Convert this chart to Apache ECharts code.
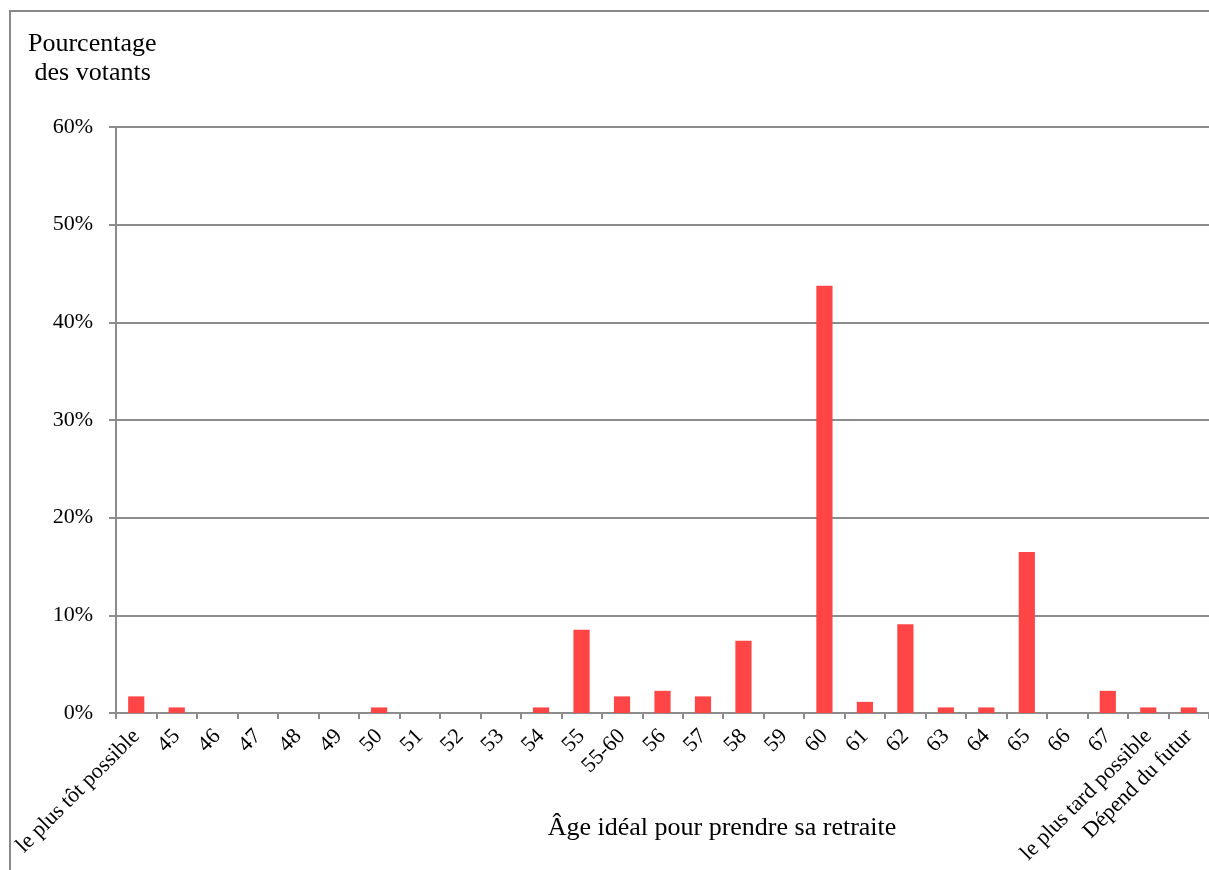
<!DOCTYPE html>
<html>
<head>
<meta charset="utf-8">
<script src="https://cdn.jsdelivr.net/npm/echarts@6/dist/echarts.min.js"></script>
<style>
  html, body { margin: 0; padding: 0; background: #fff; }
  #chart { width: 1209px; height: 870px; }
</style>
</head>
<body>
<div id="chart"></div>
<script>
// Ideal retirement age, share of respondents (%)
const categories = [
  'le plus tôt possible', '45', '46', '47', '48', '49', '50', '51', '52', '53', '54', '55',
  '55-60', '56', '57', '58', '59', '60', '61', '62', '63', '64', '65', '66', '67',
  'le plus tard possible', 'Dépend du futur'
];
const shares = [
  1.70, 0.57, 0, 0, 0, 0, 0.57, 0, 0, 0, 0.57, 8.52,
  1.70, 2.27, 1.70, 7.39, 0, 43.75, 1.14, 9.09, 0.57, 0.57, 16.48, 0, 2.27,
  0.57, 0.57
];
const yTicks = { min: 0, max: 60, step: 10 };
const yTitle = ['Pourcentage', ' des votants'];
const xTitle = 'Âge idéal pour prendre sa retraite';

const serif = '"Liberation Serif", "DejaVu Serif", serif';
const axisGray = '#8c8c8c';

const chart = echarts.init(document.getElementById('chart'), null, { renderer: 'canvas' });
chart.setOption({
  animation: false,
  backgroundColor: '#ffffff',
  grid: { left: 116, right: 0, top: 127, bottom: 157, containLabel: false },
  xAxis: {
    type: 'category',
    data: categories,
    axisLine: { lineStyle: { color: axisGray, width: 2 } },
    axisTick: { show: true, length: 6, alignWithLabel: false, lineStyle: { color: axisGray, width: 2 } },
    axisLabel: {
      interval: 0,
      rotate: 45,
      margin: 20,
      color: '#000',
      fontFamily: serif,
      fontSize: 22
    },
    splitLine: { show: false }
  },
  yAxis: {
    type: 'value',
    min: yTicks.min,
    max: yTicks.max,
    interval: yTicks.step,
    axisLine: { show: true, lineStyle: { color: axisGray, width: 2 } },
    axisTick: { show: true, length: 7, lineStyle: { color: axisGray, width: 2 } },
    axisLabel: {
      formatter: '{value}%',
      margin: 23,
      color: '#000',
      fontFamily: serif,
      fontSize: 22
    },
    splitLine: { show: true, lineStyle: { color: axisGray, width: 2 } }
  },
  series: [{
    type: 'bar',
    data: shares,
    barWidth: '40%',
    itemStyle: { color: '#ff4545' }
  }],
  graphic: [
    {
      type: 'rect',
      shape: { x: 10, y: 11, width: 1300, height: 1000 },
      style: { fill: 'none', stroke: '#888888', lineWidth: 2 },
      silent: true
    },
    {
      type: 'text',
      left: 28, top: 30,
      style: {
        text: yTitle.join('\n'),
        font: '26px ' + serif,
        fill: '#000',
        lineHeight: 29
      }
    },
    {
      type: 'text',
      x: 722, y: 828,
      style: {
        text: xTitle,
        font: '26px ' + serif,
        fill: '#000',
        align: 'center',
        verticalAlign: 'middle'
      }
    }
  ]
});
</script>
</body>
</html>
